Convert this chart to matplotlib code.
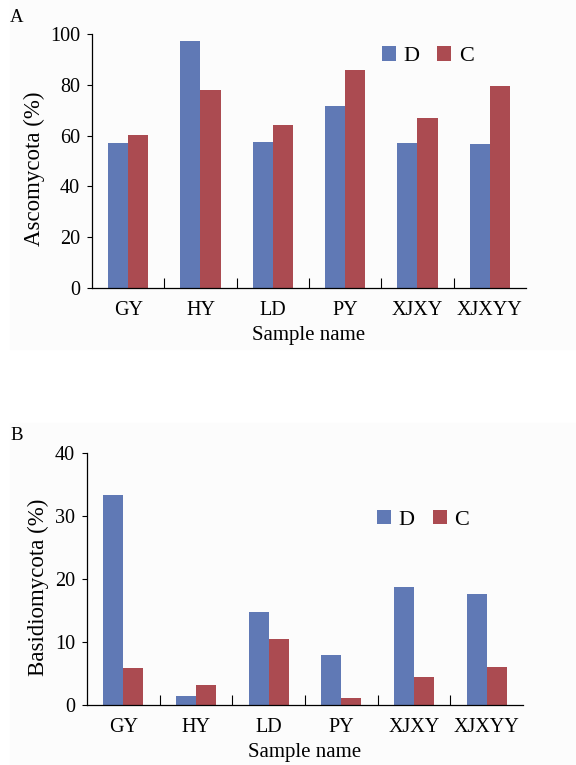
import numpy as np
import matplotlib
matplotlib.use('Agg')
import matplotlib.pyplot as plt
from matplotlib.patches import Rectangle

plt.rcParams['font.family'] = ['Liberation Serif', 'DejaVu Serif']

# Data
samples = ['GY', 'HY', 'LD', 'PY', 'XJXY', 'XJXYY']
asco_D = [56.9, 97.1, 57.4, 71.7, 56.9, 56.6]
asco_C = [60.4, 77.9, 64.3, 85.8, 66.8, 79.5]
basid_D = [33.4, 1.5, 14.8, 7.9, 18.7, 17.6]
basid_C = [5.9, 3.1, 10.5, 1.1, 4.4, 6.1]

blue = '#6079b5'
red = '#ab4b51'

fig = plt.figure(figsize=(5.76, 7.65), dpi=100)

# light panel backgrounds
fig.patches.append(Rectangle((10 / 576, 1 - 349 / 765), 566 / 576, 349 / 765,
                             transform=fig.transFigure, color='#fcfcfc', zorder=-5))
fig.patches.append(Rectangle((10 / 576, 0), 566 / 576, 1 - 423 / 765,
                             transform=fig.transFigure, color='#fcfcfc', zorder=-5))

ax1 = fig.add_axes([0.1597, 0.6235, 0.7535, 0.3321])
ax2 = fig.add_axes([0.151, 0.0784, 0.757, 0.3294])

x = np.arange(len(samples))
w = 0.277


def draw(ax, d, c, ylabel, ymax, step, leg_pos, letter, letter_y):
    ax.set_facecolor('none')
    ax.bar(x - w / 2, d, w, color=blue, label='D')
    ax.bar(x + w / 2, c, w, color=red, label='C')
    ax.set_xlim(-0.5, 5.5)
    ax.set_ylim(0, ymax)
    ax.set_yticks(np.arange(0, ymax + 1, step))
    ax.set_xticks(x)
    ax.set_xticklabels(samples)
    ax.set_xticks(np.arange(0.5, 5.0, 1.0), minor=True)
    ax.tick_params(axis='x', which='major', length=0, pad=9, labelsize=14.5)
    ax.tick_params(axis='x', which='minor', direction='in', length=7, width=0.8)
    ax.tick_params(axis='y', direction='out', length=3.5, width=0.8, pad=5, labelsize=14.5)
    for s in ['top', 'right']:
        ax.spines[s].set_visible(False)
    for s in ['left', 'bottom']:
        ax.spines[s].set_linewidth(0.9)
    ax.set_ylabel(ylabel, fontsize=16.5, labelpad=4)
    ax.yaxis.label.set_y(0.468)
    ax.set_xlabel('Sample name', fontsize=15, labelpad=5)
    ax.legend(loc='center', bbox_to_anchor=leg_pos, ncol=2, frameon=False,
              fontsize=16, handlelength=0.63, handleheight=0.63,
              handletextpad=0.35, columnspacing=0.8)
    fig.text(10 / 576, letter_y, letter, fontsize=13.5, va='center', ha='left')


draw(ax1, asco_D, asco_C, 'Ascomycota (%)', 100, 20, (0.774, 0.913), 'A', 1 - 18 / 765)
draw(ax2, basid_D, basid_C, 'Basidiomycota (%)', 40, 10, (0.771, 0.736), 'B', 1 - 435 / 765)

fig.savefig('out.png', dpi=100)
